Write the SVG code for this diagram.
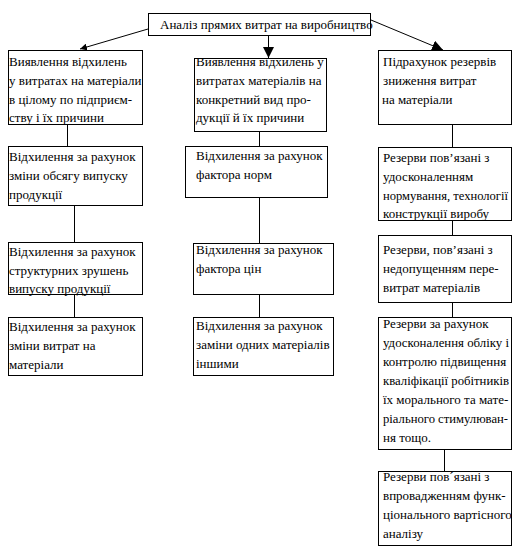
<svg xmlns="http://www.w3.org/2000/svg" width="517" height="551" viewBox="0 0 517 551">
<style>
  rect { fill: #fff; stroke: #000; stroke-width: 1; }
  line { stroke: #000; stroke-width: 1; }
  text { font-family: "Liberation Serif", "Times New Roman", serif; font-size: 13px; fill: #000; }
</style>
<defs>
  <marker id="arrS" viewBox="0 0 10 10" refX="10" refY="5" markerWidth="7" markerHeight="7" markerUnits="userSpaceOnUse" orient="auto">
    <path d="M0,0 L10,5 L0,10 z" fill="#000"/>
  </marker>
  <marker id="arrL" viewBox="0 0 10 10" refX="10" refY="5" markerWidth="11" markerHeight="11" markerUnits="userSpaceOnUse" orient="auto">
    <path d="M0,0 L10,5 L0,10 z" fill="#000"/>
  </marker>
</defs>
<rect x="0" y="0" width="517" height="551" style="stroke:none"/>

<g id="connectors">
  <line x1="148" y1="29" x2="80" y2="49" marker-end="url(#arrS)"/>
  <line x1="268.5" y1="35" x2="268.5" y2="58" marker-end="url(#arrL)"/>
  <line x1="371" y1="20" x2="443" y2="50" marker-end="url(#arrL)"/>
  <line x1="67.5" y1="124" x2="67.5" y2="146"/>
  <line x1="74.5" y1="205" x2="74.5" y2="242"/>
  <line x1="74.5" y1="294" x2="74.5" y2="317"/>
  <line x1="259.5" y1="131" x2="259.5" y2="146"/>
  <line x1="259.5" y1="197" x2="259.5" y2="243"/>
  <line x1="259.5" y1="294" x2="259.5" y2="317"/>
  <line x1="452.5" y1="124" x2="452.5" y2="147"/>
  <line x1="452.5" y1="220" x2="452.5" y2="235"/>
  <line x1="452.5" y1="302" x2="452.5" y2="317"/>
  <line x1="444.5" y1="449" x2="444.5" y2="471"/>
</g>

<g id="top">
  <rect x="148.5" y="13.5" width="222" height="22"/>
  <text x="160" y="29">Аналіз прямих витрат на виробництво</text>
</g>

<g id="L1">
  <rect x="8.5" y="50.5" width="134" height="74"/>
  <text x="9" y="66">Виявлення відхилень</text>
  <text x="9" y="85">у витратах на матеріали</text>
  <text x="9" y="104">в цілому по підприєм-</text>
  <text x="9" y="122">ству і їх причини</text>
</g>
<g id="M1">
  <rect x="194.5" y="58.5" width="132" height="73"/>
  <text x="196" y="66">Виявлення відхилень у</text>
  <text x="196" y="85">витратах матеріалів на</text>
  <text x="196" y="104">конкретний вид про-</text>
  <text x="196" y="122">дукції й їх причини</text>
</g>
<g id="R1">
  <rect x="378.5" y="50.5" width="133" height="74"/>
  <text x="383" y="66">Підрахунок резервів</text>
  <text x="383" y="85">зниження витрат</text>
  <text x="382" y="104">на матеріали</text>
</g>

<g id="L2">
  <rect x="8.5" y="146.5" width="134" height="59"/>
  <text x="9" y="161">Відхилення за рахунок</text>
  <text x="9" y="180">зміни обсягу випуску</text>
  <text x="9" y="199">продукції</text>
</g>
<g id="M2">
  <rect x="185.5" y="146.5" width="142" height="51"/>
  <text x="196" y="160">Відхилення за рахунок</text>
  <text x="196" y="179">фактора норм</text>
</g>
<g id="R2">
  <rect x="378.5" y="147.5" width="133" height="73"/>
  <text x="383" y="162">Резерви пов’язані з</text>
  <text x="383" y="181">удосконаленням</text>
  <text x="383" y="200" textLength="125" lengthAdjust="spacingAndGlyphs">нормування, технології</text>
  <text x="383" y="218">конструкції виробу</text>
</g>

<g id="L3">
  <rect x="8.5" y="242.5" width="134" height="52"/>
  <text x="9" y="256">Відхилення за рахунок</text>
  <text x="9" y="275">структурних зрушень</text>
  <text x="9" y="293">випуску продукції</text>
</g>
<g id="M3">
  <rect x="193.5" y="243.5" width="140" height="51"/>
  <text x="196" y="254">Відхилення за рахунок</text>
  <text x="196" y="273">фактора цін</text>
</g>
<g id="R3">
  <rect x="378.5" y="235.5" width="133" height="67"/>
  <text x="383" y="254">Резерви, пов’язані з</text>
  <text x="383" y="273">недопущенням  пере-</text>
  <text x="383" y="292">витрат матеріалів</text>
</g>

<g id="L4">
  <rect x="8.5" y="317.5" width="134" height="58"/>
  <text x="9" y="331">Відхилення за рахунок</text>
  <text x="9" y="350">зміни витрат на</text>
  <text x="9" y="369">матеріали</text>
</g>
<g id="M4">
  <rect x="193.5" y="317.5" width="140" height="58"/>
  <text x="196" y="330">Відхилення за рахунок</text>
  <text x="196" y="349">заміни одних матеріалів</text>
  <text x="196" y="368">іншими</text>
</g>
<g id="R4">
  <rect x="378.5" y="317.5" width="133" height="132"/>
  <text x="383" y="328">Резерви за рахунок</text>
  <text x="383" y="347" textLength="126" lengthAdjust="spacingAndGlyphs">удосконалення обліку і</text>
  <text x="383" y="366">контролю підвищення</text>
  <text x="383" y="385" textLength="126" lengthAdjust="spacingAndGlyphs">кваліфікації робітників</text>
  <text x="383" y="404">їх морального та мате-</text>
  <text x="383" y="423" textLength="125" lengthAdjust="spacingAndGlyphs">ріального стимулюван-</text>
  <text x="383" y="442">ня тощо.</text>
</g>
<g id="R5">
  <rect x="378.5" y="471.5" width="133" height="74"/>
  <text x="383" y="481">Резерви пов´язані з</text>
  <text x="383" y="500">впровадженням функ-</text>
  <text x="383" y="519">ціонального вартісного</text>
  <text x="383" y="538">аналізу</text>
</g>
</svg>
